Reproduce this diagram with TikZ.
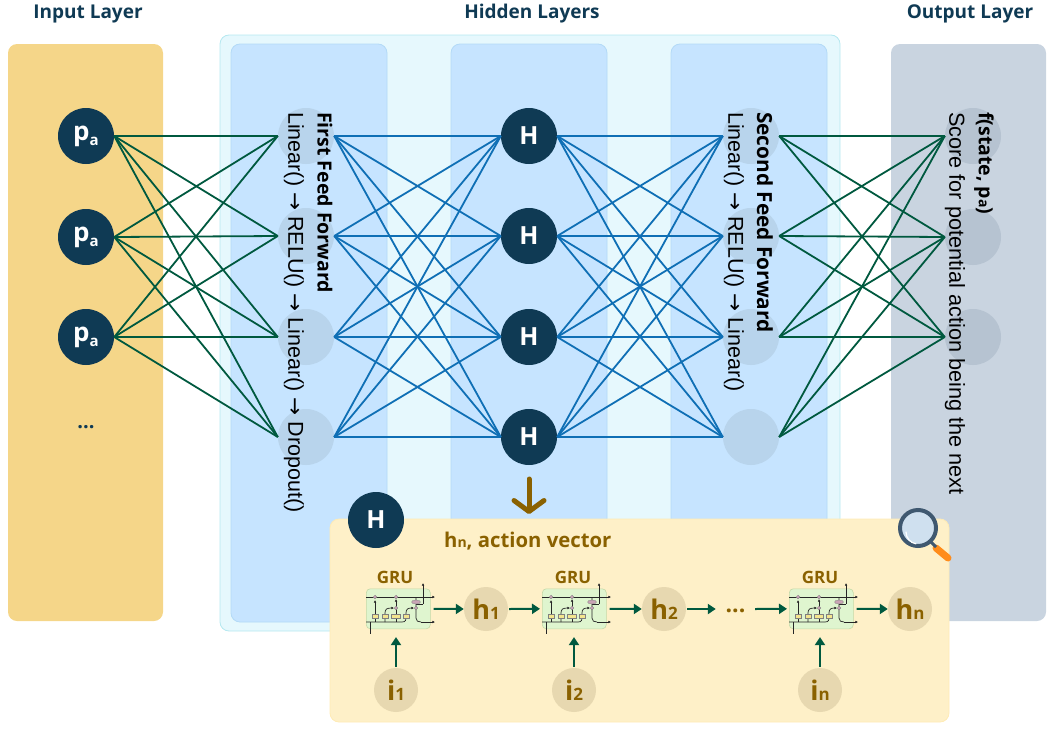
\documentclass[tikz,border=0pt]{standalone}
\usepackage{fontspec}
\setmainfont{Liberation Sans}
\newfontfamily\ls{Liberation Sans}
\newfontfamily\gs{Open Sans}
\newfontfamily\dv{DejaVu Sans}
\usetikzlibrary{arrows.meta,calc,shapes.geometric}
\definecolor{inputc}{HTML}{F5D689}
\definecolor{outerc}{HTML}{E6F8FD}
\definecolor{outerb}{HTML}{B5E8F0}
\definecolor{innerc}{HTML}{C6E4FF}
\definecolor{innerb}{HTML}{B3DAF7}
\definecolor{outc}{HTML}{C9D4E0}
\definecolor{dark}{HTML}{0F3A54}
\definecolor{edgegreen}{HTML}{00593F}
\definecolor{edgeblue}{HTML}{0F6FB5}
\definecolor{softc}{HTML}{B8D4EC}
\definecolor{softo}{HTML}{B6C3D1}
\definecolor{brownc}{HTML}{8A6100}
\definecolor{tanc}{HTML}{E7D8B0}
\definecolor{panelc}{HTML}{FEF0C8}
\definecolor{panelb}{HTML}{FFEBB5}
\definecolor{grubox}{HTML}{DFF5CF}
\definecolor{grub}{HTML}{C4D9A8}
\definecolor{gate}{HTML}{C9A3B5}
\definecolor{gatey}{HTML}{F3E58F}
\definecolor{lens}{HTML}{CFE0EF}
\definecolor{rim}{HTML}{3F5870}
\definecolor{handle}{HTML}{FF8C1A}
\tikzset{
  x=1pt,y=-1pt,
  panel/.style={rounded corners=9pt,anchor=north west,inner sep=0pt,outer sep=0pt},
  dcirc/.style={circle,fill=dark,text=white,minimum size=56pt,inner sep=0pt,font=\gs\bfseries\fontsize{25}{25}\selectfont},
  softh/.style={circle,fill=softc,minimum size=56pt,inner sep=0pt},
  softout/.style={circle,fill=softo,minimum size=56pt,inner sep=0pt},
  tanh/.style={circle,fill=tanc,text=brownc,minimum size=44pt,inner sep=0pt,font=\gs\bfseries\fontsize{27}{27}\selectfont},
  title/.style={text=dark,font=\gs\bfseries\fontsize{19}{19}\selectfont,inner sep=0pt},
  gedge/.style={edgegreen,line width=1.8pt},
  bedge/.style={edgeblue,line width=1.8pt},
  flow/.style={edgegreen,line width=2pt,-{Triangle[length=8pt,width=10pt]}},
  vbold/.style={rotate=-90,anchor=west,inner sep=0pt,font=\gs\bfseries\fontsize{19.5}{19.5}\selectfont},
  vtext/.style={rotate=-90,anchor=west,inner sep=0pt,font=\ls\fontsize{21.5}{21.5}\selectfont},
  grubody/.style={draw=grub,fill=grubox,rounded corners=4pt,line width=.6pt,anchor=north west,minimum width=64pt,minimum height=40pt,inner sep=0pt},
  grutext/.style={text=brownc,font=\gs\bfseries\fontsize{17}{17}\selectfont,inner sep=0pt},
  gline/.style={black!85,line width=.7pt},
  garr/.style={black!85,line width=.7pt,-{Latex[length=2.6pt,width=2.6pt]}},
  gurcirc/.style={circle,draw=gray,fill=gate,line width=.3pt,minimum size=3.6pt,inner sep=0pt},
  gurell/.style={ellipse,draw=gray,fill=gate,line width=.3pt,minimum width=9pt,minimum height=4pt,inner sep=0pt},
  gurbox/.style={draw=gray,fill=gatey,line width=.3pt,minimum width=6pt,minimum height=4pt,inner sep=0pt},
  gru/.pic={
    \draw[gline] (4.5,34) -- (4.5,46);
    \draw[garr] (0,9) -- (69,9);
    \draw[gline] (0,34) -- (36,34) .. controls (40,34) and (40,32) .. (40,28);
    \draw[garr] (9,34) -- (9,12);
    \draw[garr] (19,34) -- (19,25) .. controls (19,21) and (21,20) .. (28,20);
    \draw[gline] (30,34) -- (30,20);
    \draw[garr] (30,20) -- (30,11);
    \draw[garr] (40,28) -- (40,25) .. controls (40,21) and (42,20) .. (48,20);
    \draw[gline] (50,9) -- (50,30) .. controls (50,33) and (52,34) .. (55,34);
    \draw[garr] (55,34) -- (69,34);
    \draw[gline] (50,16) -- (57,16);
    \draw[garr] (57,16) -- (57,-5);
    \node[gurcirc] at (9,9) {};
    \node[gurcirc] at (30,9) {};
    \node[gurcirc] at (30,20) {};
    \node[gurcirc] at (50,20) {};
    \node[gurell] at (50,14) {};
    \node[gurbox] at (9,28) {};
    \node[gurbox] at (19,28) {};
    \node[gurbox,minimum width=9pt] at (30,28) {};
    \node[gurbox] at (40,28) {};
  }
}
\newcommand{\lowsub}[2]{#1{\fontsize{17}{17}\selectfont #2}}
\newcommand{\smallsub}[2]{#1{\fontsize{14}{14}\selectfont #2}}
\newcommand{\rarr}{{\dv →}}
\begin{document}
\begin{tikzpicture}
\useasboundingbox (0,0) rectangle (1054,728);
% panels
\node[panel,fill=inputc,minimum width=155pt,minimum height=577pt] (inputpanel) at (8,44) {};
\node[panel,fill=outc,minimum width=155pt,minimum height=577pt] (outputpanel) at (891,44) {};
\node[panel,fill=outerc,draw=outerb,line width=.8pt,minimum width=620pt,minimum height=596pt] (hiddenpanel) at (220,35) {};
\foreach \n/\x in {a/231,b/451,c/671}
  \node[panel,fill=innerc,draw=innerb,line width=.8pt,minimum width=156pt,minimum height=578pt] (inner\n) at (\x,44) {};
% titles
\node[title] (t1) at (88,14) {Input Layer};
\node[title] (t2) at (532,14) {Hidden Layers};
\node[title] (t3) at (970,14) {Output Layer};
% circles
\foreach \i/\y in {1/136,2/237,3/337}
  \node[dcirc] (p\i) at (86,\y) {\fontsize{26}{26}\selectfont p{\raisebox{-5pt}{\fontsize{15}{15}\selectfont a}}};
\path node[dcirc] (m1) at (529,136) {H} node[dcirc] (m2) at (529,236) {H}
      node[dcirc] (m3) at (529,337) {H} node[dcirc] (m4) at (529,437) {H};
\foreach \i/\y in {1/136,2/236,3/337,4/437} {
  \node[softh] (a\i) at (306,\y) {};
  \node[softh] (b\i) at (751,\y) {};
}
\foreach \i/\y in {1/136,2/237,3/337}
  \node[softout] (o\i) at (973,\y) {};
\node[text=dark,font=\gs\bfseries\fontsize{20}{20}\selectfont] (dots) at (86,427) {...};
% edges
\foreach \i in {1,2,3} \foreach \j in {1,2,3,4} {
  \draw[gedge] (p\i.east) -- (a\j.west);
  \draw[gedge] (b\j.east) -- (o\i.west);
}
\foreach \i in {1,2,3,4} \foreach \j in {1,2,3,4} {
  \draw[bedge] (a\i.east) -- (m\j.west);
  \draw[bedge] (m\i.east) -- (b\j.west);
}
% vertical texts
\node[vbold] (v1) at (325,112) {First Feed Forward};
\node[vtext] (v2) at (294,112) {Linear() \rarr{} RELU() \rarr{} Linear() \rarr{} Dropout()};
\node[vbold,font=\gs\bfseries\fontsize{20.8}{20.8}\selectfont] (v3) at (765,112) {Second Feed Forward};
\node[vtext] (v4) at (734,112) {Linear() \rarr{} RELU() \rarr{} Linear()};
\node[vbold] (v5) at (984,112) {f(state, \smallsub{p}{a})};
\node[vtext,font=\ls\fontsize{21.7}{21.7}\selectfont] (v6) at (955,112) {Score for potential action being the next};
% detail panel
\coordinate (arrtop) at (529,479);
\coordinate (arrbot) at (529,514);
\node[panel,fill=panelc,draw=panelb,line width=.8pt,minimum width=619pt,minimum height=203pt] (detail) at (330,519) {};
\draw[brownc,line width=5pt,-{Straight Barb[length=11pt,width=30pt,round]},line cap=round] (arrtop) -- (arrbot);
\node[dcirc] (mh) at (376,520) {H};
\node[text=brownc,font=\gs\bfseries\fontsize{20.3}{20.3}\selectfont,inner sep=0pt,anchor=west] (vecl) at (444,541) {\smallsub{h}{n}, action vector};
% GRU cells
\foreach \n/\x in {g1/366,g2/542,g3/789} {
  \node[grubody] (\n) at (\x,588.5) {};
  \pic at (\x,588) {gru};
}
\node[grutext] (gl1) at (395,577) {GRU};
\node[grutext] (gl2) at (573,577) {GRU};
\node[grutext] (gl3) at (820,577) {GRU};
\node[tanh] (h1) at (486,609) {\lowsub{h}{1}};
\node[tanh] (h2) at (664,609) {\lowsub{h}{2}};
\node[tanh] (hn) at (910,609) {\lowsub{h}{n}};
\node[tanh] (i1) at (396,690) {\lowsub{i}{1}};
\node[tanh] (i2) at (574,690) {\lowsub{i}{2}};
\node[tanh] (in) at (820,690) {\lowsub{i}{n}};
\node[text=brownc,font=\gs\bfseries\fontsize{23}{23}\selectfont,inner sep=0pt,minimum width=39pt] (gdots) at (735.5,611) {...};
\draw[flow] ([xshift=3pt]g1.east) -- (h1.west);
\draw[flow] ([xshift=1pt]h1.east) -- ([xshift=-2pt]g2.west);
\draw[flow] ([xshift=3pt]g2.east) -- (h2.west);
\draw[flow] ([xshift=1pt]h2.east) -- (gdots.west |- h2.east);
\draw[flow] (gdots.east |- h2.east) -- ([xshift=-2pt]g3.west);
\draw[flow] ([xshift=3pt]g3.east) -- (hn.west);
\draw[flow] ([yshift=1pt]i1.north) -- ([yshift=-8pt]g1.south -| i1.north);
\draw[flow] ([yshift=1pt]i2.north) -- ([yshift=-8pt]g2.south -| i2.north);
\draw[flow] ([yshift=1pt]in.north) -- ([yshift=-8pt]g3.south -| in.north);
% magnifier
\draw[line width=7pt,line cap=round,handle] (936,548) -- (948,558);
\draw[line width=3pt,rim] (930,541) -- (936,547);
\fill[lens,draw=rim,line width=4pt] (918,528) circle (18pt);
\draw[white,line width=1.2pt,line cap=round] (906,532) arc (180:260:12pt);
\end{tikzpicture}
\end{document}
